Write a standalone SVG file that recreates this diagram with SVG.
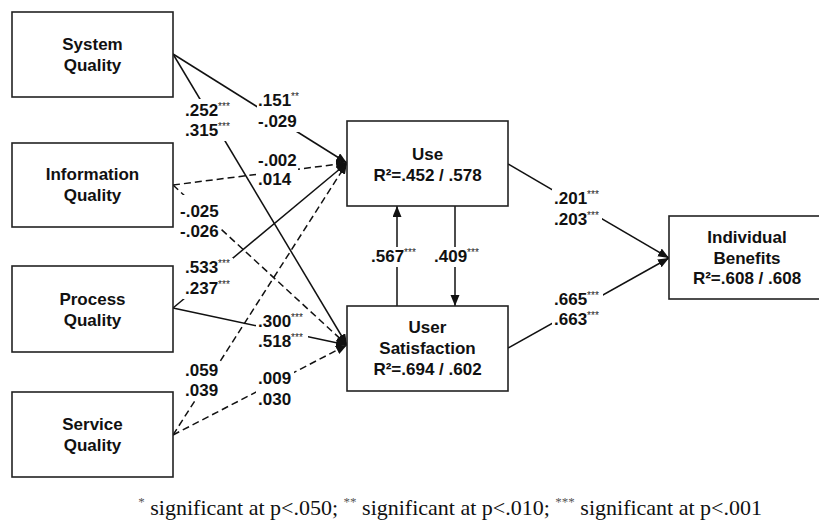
<svg xmlns="http://www.w3.org/2000/svg" width="819" height="523" viewBox="0 0 819 523">
<style>
.box{fill:#fff;stroke:#222;stroke-width:1.6}
.nt{font-family:"Liberation Sans",Arial,sans-serif;font-weight:bold;font-size:17px;fill:#111;text-anchor:middle}
.lt{font-family:"Liberation Sans",Arial,sans-serif;font-weight:bold;font-size:17px;fill:#111}
.sup{font-size:10px;font-weight:normal;fill:#222}
.ln{stroke:#111;stroke-width:1.5;fill:none;marker-end:url(#ah)}
.d{stroke-dasharray:7 4}
.bg{fill:#fff}
.cap{font-family:"Liberation Serif","Times New Roman",serif;font-size:22px;fill:#111}
.csup{font-size:13px;fill:#555}
</style>
<defs>
<marker id="ah" markerUnits="userSpaceOnUse" viewBox="0 0 12 10" markerWidth="12" markerHeight="10" refX="11" refY="4.5" orient="auto">
<path d="M0,0 L11,4.5 L0,9 z" fill="#111"/>
</marker>
</defs>
<rect width="819" height="523" fill="#fff"/>
<g id="connectors">
<path class="ln" d="M173,54 L347,163"/>
<path class="ln" d="M173,54 L347,345"/>
<path class="ln d" d="M173,185 L347,163"/>
<path class="ln d" d="M173,185 L347,345"/>
<path class="ln" d="M173,308 L347,163"/>
<path class="ln" d="M173,308 L347,345"/>
<path class="ln d" d="M173,435 L347,163"/>
<path class="ln d" d="M173,435 L347,345"/>
<path class="ln" d="M508,164 L669,258"/>
<path class="ln" d="M508,348 L669,258"/>
<path class="ln" d="M397,306 L397,206"/>
<path class="ln" d="M455,206 L455,306"/>
</g>
<g id="labels" opacity="0.999">
<rect class="bg" x="183" y="99" width="50" height="42"/>
<text class="lt" x="185" y="116">.252<tspan class="sup" dy="-6">***</tspan></text>
<text class="lt" x="185" y="136">.315<tspan class="sup" dy="-6">***</tspan></text>
<rect class="bg" x="257" y="91" width="48" height="41"/>
<text class="lt" x="258" y="106">.151<tspan class="sup" dy="-6">**</tspan></text>
<text class="lt" x="258" y="127">-.029</text>
<rect class="bg" x="256" y="151" width="42" height="39"/>
<text class="lt" x="258" y="166">-.002</text>
<text class="lt" x="258" y="185">.014</text>
<rect class="bg" x="179" y="195" width="41" height="47"/>
<text class="lt" x="180" y="217">-.025</text>
<text class="lt" x="180" y="237">-.026</text>
<rect class="bg" x="183" y="258" width="50" height="41"/>
<text class="lt" x="185" y="273">.533<tspan class="sup" dy="-6">***</tspan></text>
<text class="lt" x="185" y="294">.237<tspan class="sup" dy="-6">***</tspan></text>
<rect class="bg" x="256" y="313" width="52" height="38"/>
<text class="lt" x="258" y="327">.300<tspan class="sup" dy="-6">***</tspan></text>
<text class="lt" x="258" y="347">.518<tspan class="sup" dy="-6">***</tspan></text>
<rect class="bg" x="183" y="361" width="36" height="40"/>
<text class="lt" x="185" y="376">.059</text>
<text class="lt" x="185" y="396">.039</text>
<rect class="bg" x="256" y="369" width="38" height="41"/>
<text class="lt" x="258" y="384">.009</text>
<text class="lt" x="258" y="405">.030</text>
<rect class="bg" x="552" y="189" width="50" height="41"/>
<text class="lt" x="554" y="204">.201<tspan class="sup" dy="-6">***</tspan></text>
<text class="lt" x="554" y="225">.203<tspan class="sup" dy="-6">***</tspan></text>
<rect class="bg" x="552" y="290" width="51" height="40"/>
<text class="lt" x="554" y="305">.665<tspan class="sup" dy="-6">***</tspan></text>
<text class="lt" x="554" y="325">.663<tspan class="sup" dy="-6">***</tspan></text>
<rect class="bg" x="369" y="247" width="48" height="20"/>
<text class="lt" x="371" y="262">.567<tspan class="sup" dy="-6">***</tspan></text>
<rect class="bg" x="432" y="247" width="49" height="20"/>
<text class="lt" x="434" y="262">.409<tspan class="sup" dy="-6">***</tspan></text>
</g>
<g id="system-quality">
<rect class="box" x="12" y="12" width="161" height="85"/>
<text class="nt" x="92.5" y="50">System</text>
<text class="nt" x="92.5" y="71">Quality</text>
</g>
<g id="information-quality">
<rect class="box" x="12" y="143" width="161" height="84"/>
<text class="nt" x="92.5" y="180">Information</text>
<text class="nt" x="92.5" y="201">Quality</text>
</g>
<g id="process-quality">
<rect class="box" x="12" y="266" width="161" height="86"/>
<text class="nt" x="92.5" y="305">Process</text>
<text class="nt" x="92.5" y="326">Quality</text>
</g>
<g id="service-quality">
<rect class="box" x="12" y="392" width="161" height="85"/>
<text class="nt" x="92.5" y="430">Service</text>
<text class="nt" x="92.5" y="451">Quality</text>
</g>
<g id="use">
<rect class="box" x="347" y="121" width="161" height="85"/>
<text class="nt" x="427.5" y="160">Use</text>
<text class="nt" x="427.5" y="181">R²=.452 / .578</text>
</g>
<g id="user-satisfaction">
<rect class="box" x="347" y="306" width="161" height="85"/>
<text class="nt" x="427.5" y="333">User</text>
<text class="nt" x="427.5" y="354">Satisfaction</text>
<text class="nt" x="427.5" y="375">R²=.694 / .602</text>
</g>
<g id="individual-benefits">
<rect class="box" x="669" y="216" width="160" height="83"/>
<text class="nt" x="747" y="243">Individual</text>
<text class="nt" x="747" y="264">Benefits</text>
<text class="nt" x="747" y="284">R²=.608 / .608</text>
</g>
<g id="caption" opacity="0.999">
<text class="cap" x="762" y="515" text-anchor="end"><tspan class="csup" dy="-9">*</tspan><tspan dy="9"> significant at p&lt;.050; </tspan><tspan class="csup" dy="-9">**</tspan><tspan dy="9"> significant at p&lt;.010; </tspan><tspan class="csup" dy="-9">***</tspan><tspan dy="9"> significant at p&lt;.001</tspan></text>
</g>
</svg>
